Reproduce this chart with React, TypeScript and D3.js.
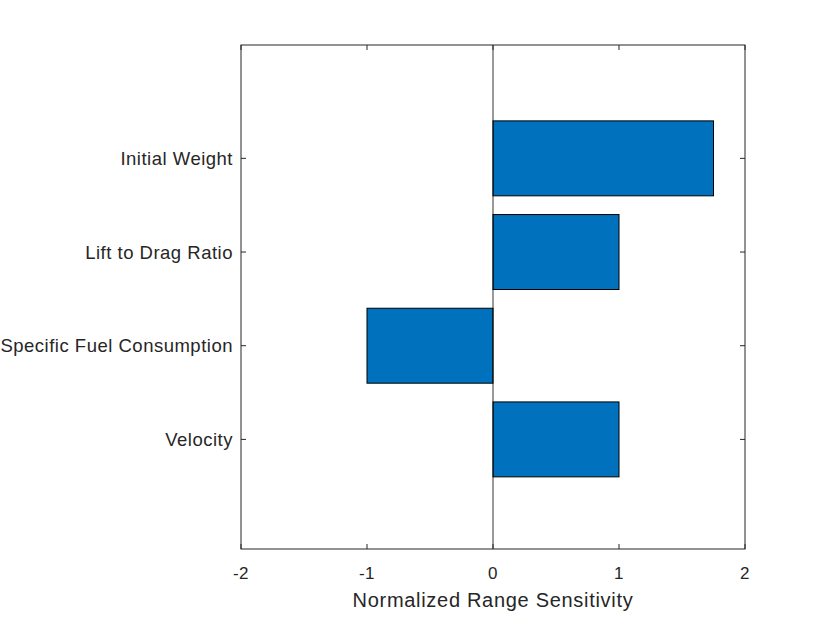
import React, { useEffect, useRef } from "react";
import * as d3 from "d3";

const categories = ["Velocity", "Specific Fuel Consumption", "Lift to Drag Ratio", "Initial Weight"];
const values = [1, -1, 1, 1.75];
const xTicks = [-2, -1, 0, 1, 2];

const W = 825;
const H = 619;

export default function App() {
  const ref = useRef<SVGSVGElement | null>(null);

  useEffect(() => {
    if (!ref.current) return;
    const svg = d3.select(ref.current);
    svg.selectAll("*").remove();

    const left = 241, right = 745, top = 45, bottom = 549;
    const axisColor = "#262626";
    const font = "'Liberation Sans', Arial, Helvetica, sans-serif";

    const x = d3.scaleLinear().domain([-2, 2]).range([left, right]);
    // categories sit at 1..n, MATLAB-style padded limits
    const y = d3.scaleLinear().domain([-0.17, 5.21]).range([bottom, top]);
    const barH = (y(0) - y(0.8));

    svg.append("rect")
      .attr("x", left).attr("y", top)
      .attr("width", right - left).attr("height", bottom - top)
      .attr("fill", "white");

    // bars
    svg.append("g")
      .selectAll("rect")
      .data(values)
      .join("rect")
      .attr("x", (d) => x(Math.min(0, d)))
      .attr("y", (_, i) => y(i + 1) - barH / 2)
      .attr("width", (d) => Math.abs(x(d) - x(0)))
      .attr("height", barH)
      .attr("fill", "#0072BD")
      .attr("stroke", "#000")
      .attr("stroke-width", 1);

    // zero baseline
    svg.append("line")
      .attr("x1", x(0)).attr("x2", x(0))
      .attr("y1", top).attr("y2", bottom)
      .attr("stroke", "#000")
      .attr("stroke-width", 0.8);

    // box
    svg.append("rect")
      .attr("x", left).attr("y", top)
      .attr("width", right - left).attr("height", bottom - top)
      .attr("fill", "none")
      .attr("stroke", axisColor)
      .attr("stroke-width", 1);

    const tickLen = 5;
    const g = svg.append("g").attr("stroke", axisColor).attr("stroke-width", 1);
    xTicks.forEach((t) => {
      g.append("line").attr("x1", x(t)).attr("x2", x(t)).attr("y1", bottom).attr("y2", bottom - tickLen);
      g.append("line").attr("x1", x(t)).attr("x2", x(t)).attr("y1", top).attr("y2", top + tickLen);
    });
    categories.forEach((_, i) => {
      g.append("line").attr("x1", left).attr("x2", left + tickLen).attr("y1", y(i + 1)).attr("y2", y(i + 1));
      g.append("line").attr("x1", right).attr("x2", right - tickLen).attr("y1", y(i + 1)).attr("y2", y(i + 1));
    });

    // tick labels
    svg.append("g")
      .selectAll("text")
      .data(xTicks)
      .join("text")
      .attr("x", (d) => x(d))
      .attr("y", 579)
      .attr("text-anchor", "middle")
      .attr("font-family", font)
      .attr("font-size", 17)
      .attr("letter-spacing", 0.5)
      .attr("fill", axisColor)
      .text((d) => String(d));

    svg.append("g")
      .selectAll("text")
      .data(categories)
      .join("text")
      .attr("x", left - 8)
      .attr("y", (_, i) => y(i + 1) + 6.6)
      .attr("text-anchor", "end")
      .attr("font-family", font)
      .attr("font-size", 18.5)
      .attr("letter-spacing", 0.5)
      .attr("fill", axisColor)
      .text((d) => d);

    svg.append("text")
      .attr("x", (left + right) / 2)
      .attr("y", 607)
      .attr("text-anchor", "middle")
      .attr("font-family", font)
      .attr("font-size", 20)
      .attr("letter-spacing", 0.7)
      .attr("fill", axisColor)
      .text("Normalized Range Sensitivity");
  }, []);

  return (
    <svg
      ref={ref}
      width={W}
      height={H}
      style={{ position: "absolute", left: 0, top: 0, background: "white" }}
    />
  );
}
